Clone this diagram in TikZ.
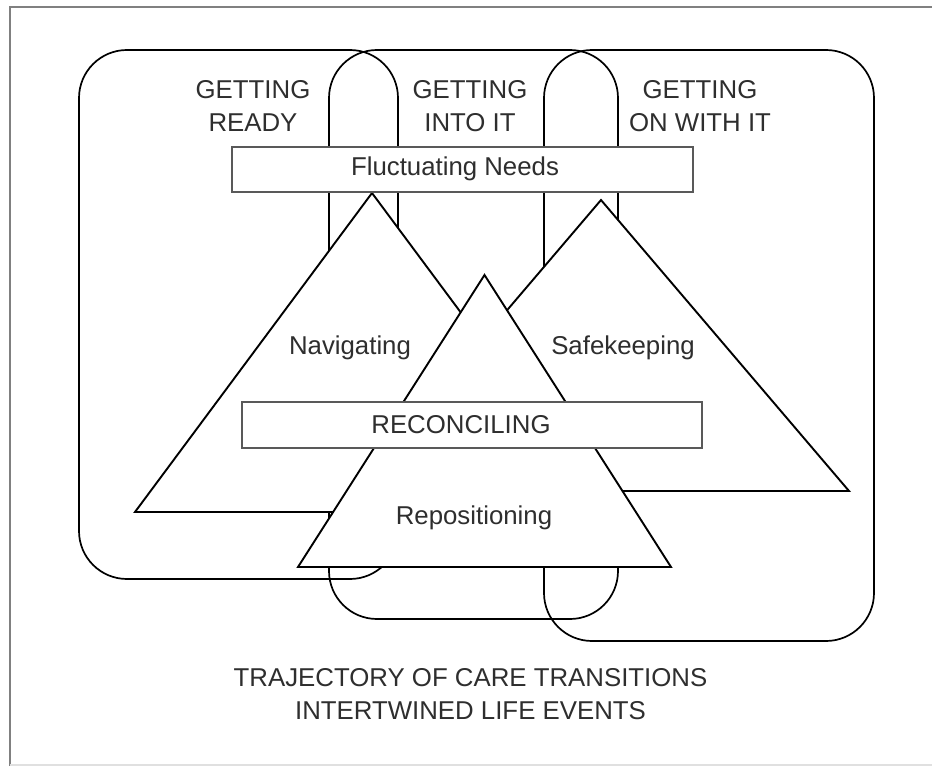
\documentclass[tikz,border=0pt]{standalone}
\usepackage{fontspec}
\setmainfont{Liberation Sans}
\begin{document}
\begin{tikzpicture}[x=1pt,y=-1pt,
  loop/.style={draw=black,line width=1.7pt,rounded corners=48pt},
  tri/.style={draw=black,fill=white,line width=1.9pt,line join=miter},
  bar/.style={draw=black!65,fill=white,line width=1.8pt,inner sep=0pt},
  lbl/.style={text=black!82,font=\fontsize{25.8}{33.5}\selectfont,align=center,inner sep=0pt},
  frame/.style={draw=black!50,line width=2.6pt}]
\useasboundingbox (0,0) rectangle (932,767);
% outer frame
\draw[frame] (10,766) -- (10,7) -- (940,7);
\draw[draw=black!12,line width=1.5pt] (10,765) -- (932,765);
% three overlapping loops
\draw[loop] (79,50) rectangle (398,579);
\draw[loop] (329,50) rectangle (618,619);
\draw[loop] (544,50) rectangle (874,641);
% triangles
\draw[tri] (372,193) -- (609,512) -- (135,512) -- cycle;
\draw[tri] (601,200) -- (849,491) -- (353,491) -- cycle;
\draw[tri] (484.5,275) -- (671,567) -- (298,567) -- cycle;
% bars
\node[bar,minimum width=461pt,minimum height=45pt] (fn) at (462.5,169.5) {};
\node[bar,minimum width=460pt,minimum height=46pt] (rc) at (472,425) {};
\node[lbl] (fnt) at (455,169) {Fluctuating Needs};
\node[lbl] (rct) at (461,425) {RECONCILING};
% phase labels
\node[lbl] (gr) at (253,106) {GETTING\\READY};
\node[lbl] (gi) at (470,106) {GETTING\\INTO IT};
\node[lbl] (go) at (700,106) {GETTING\\ON WITH IT};
% triangle labels
\node[lbl] (nav) at (350,348) {Navigating};
\node[lbl] (saf) at (623,348) {Safekeeping};
\node[lbl] (rep) at (474,518) {Repositioning};
% caption
\node[lbl] (cap) at (470.5,694) {TRAJECTORY OF CARE TRANSITIONS\\INTERTWINED LIFE EVENTS};
\end{tikzpicture}
\end{document}
